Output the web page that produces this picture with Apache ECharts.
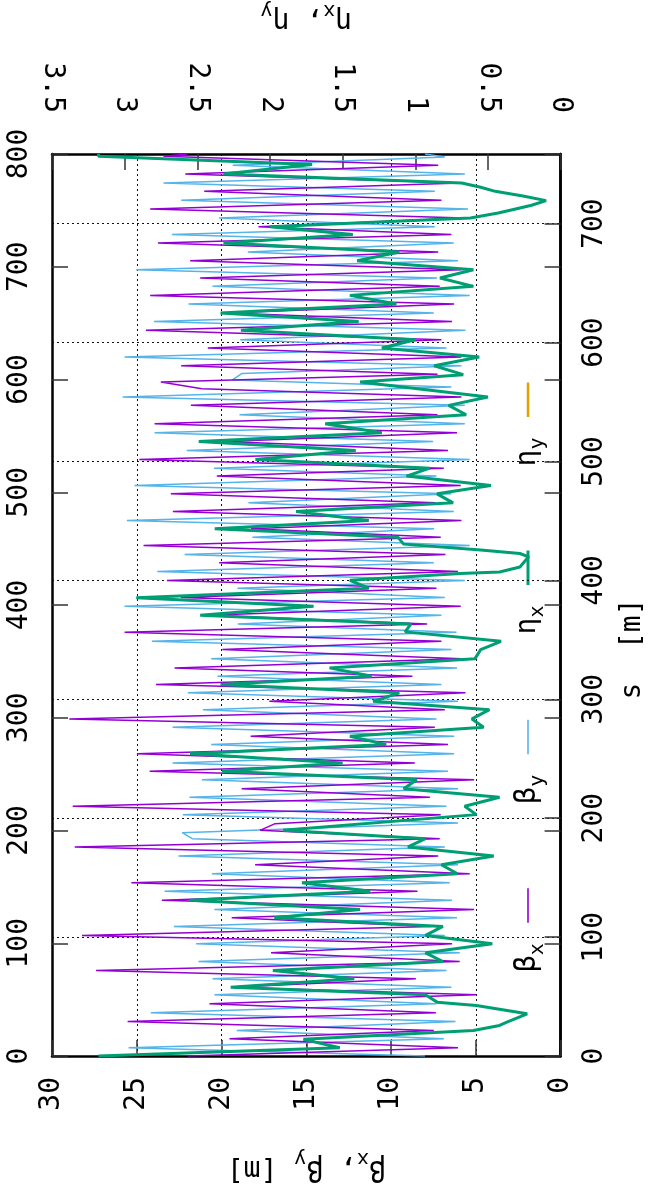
<!DOCTYPE html>
<html><head><meta charset="utf-8">
<script src="https://cdn.jsdelivr.net/npm/echarts@6/dist/echarts.min.js"></script>
<style>html,body{margin:0;padding:0;background:#fff}#c{width:660px;height:1198px}</style>
</head><body><div id="c"></div>
<script>
// ---- data (s in m, beta in m, eta in m) ----
const sBetaX = [0, 6.9, 14.5, 21.5, 29.1, 36.3, 43.9, 51.5, 57.9, 65.0,
  72.0, 79.5, 86.8, 94.4, 101.4, 109.0, 116.3, 123.3, 130.9, 138.5,
  145.7, 153.3, 160.9, 168.2, 175.8, 182.8, 189.8, 195.4, 203.0, 210.0,
  217.6, 224.8, 232.4, 239.4, 246.5, 254.3, 261.9, 268.9, 276.5, 283.5,
  291.3, 298.3, 305.4, 312.4, 319.4, 326.4, 334.0, 341.8, 348.8, 356.4,
  363.4, 370.7, 378.3, 385.6, 393.4, 399.9, 407.5, 414.8, 421.8, 429.3,
  436.3, 443.4, 450.4, 457.9, 465.2, 472.8, 479.8, 487.7, 494.4, 501.7,
  509.3, 516.9, 524.1, 531.7, 539.3, 547.2, 554.2, 561.2, 566.8, 573.3,
  580.5, 587.8, 595.4, 602.4, 610.3, 617.8, 624.9, 632.4, 639.7, 647.3,
  654.3, 661.3, 668.9, 676.2, 683.8, 690.8, 697.5, 704.8, 712.4, 719.7,
  727.2, 734.2, 741.8, 749.1, 756.7, 758.6];
const betaX = [22.0, 6.05, 19.53, 7.48, 25.54, 7.36, 20.71, 4.97, 19.43, 8.54,
  27.40, 5.95, 17.08, 6.40, 28.23, 7.62, 19.40, 5.10, 23.52, 8.44,
  25.32, 5.36, 18.02, 7.22, 28.66, 7.13, 17.73, 16.84, 7.07, 28.78,
  7.71, 18.81, 5.10, 24.24, 8.60, 24.99, 6.64, 18.28, 7.42, 28.98,
  6.83, 17.18, 5.61, 23.87, 8.74, 22.77, 5.85, 19.95, 7.03, 25.72,
  7.87, 20.8, 5.89, 22.40, 7.32, 23.22, 6.05, 20.14, 6.79, 24.60,
  7.07, 18.26, 5.85, 22.87, 7.36, 22.99, 5.89, 20.28, 6.89, 24.85,
  6.64, 19.8, 6.11, 23.95, 7.26, 21.81, 5.85, 21.16, 23.58, 7.26,
  22.38, 5.85, 20.81, 7.03, 24.46, 6.40, 19.6, 6.28, 24.21, 7.13,
  21.26, 5.85, 21.85, 7.22, 23.75, 6.44, 17.82, 5.65, 24.21, 7.03,
  21.02, 5.89, 22.14, 7.22, 23.42, 22.0];

const sBetaY = [0, 6.9, 14.5, 21.5, 29.1, 36.3, 43.9, 51.5, 57.9, 65.0,
  72.0, 79.5, 86.8, 94.4, 101.4, 109.0, 116.3, 123.3, 130.9, 138.5,
  145.7, 153.3, 160.9, 168.2, 175.8, 182.8, 187.8, 195.9, 203.0, 210.0,
  217.6, 224.8, 232.4, 239.4, 246.5, 254.3, 261.9, 268.9, 276.5, 283.5,
  291.3, 298.3, 305.4, 312.4, 319.4, 326.4, 334.0, 341.8, 348.8, 356.4,
  363.4, 370.7, 378.3, 385.6, 393.4, 399.9, 407.5, 414.8, 421.8, 429.3,
  436.3, 443.4, 450.4, 457.9, 465.2, 472.8, 479.8, 487.7, 494.4, 501.7,
  509.3, 516.9, 524.1, 531.7, 539.3, 547.2, 554.2, 562.6, 568.5, 574.1,
  580.5, 587.8, 595.4, 602.4, 610.3, 617.8, 624.9, 632.4, 639.7, 647.3,
  654.3, 661.3, 668.9, 676.2, 683.8, 690.8, 697.5, 704.8, 712.4, 719.7,
  727.2, 734.2, 741.8, 749.1, 756.1, 758.6];
const betaY = [8.0, 25.48, 6.89, 19.10, 6.20, 24.17, 7.32, 20.42, 6.44, 20.53,
  6.73, 21.36, 5.95, 21.50, 6.83, 22.81, 6.11, 20.42, 6.40, 23.36,
  6.54, 20.57, 6.05, 22.54, 6.83, 21.73, 22.32, 6.05, 22.28, 6.73,
  21.89, 6.05, 21.16, 6.64, 22.89, 6.28, 20.61, 6.28, 22.89, 7.32,
  21.10, 6.05, 21.99, 7.03, 20.24, 6.11, 20.61, 6.44, 24.11, 6.14,
  19.04, 7.03, 25.72, 6.83, 19.06, 5.65, 23.79, 7.48, 22.18, 5.36,
  18.18, 7.46, 25.58, 6.30, 18.41, 6.44, 25.13, 7.32, 20.44, 5.36,
  22.05, 7.52, 23.95, 5.65, 18.94, 5.65, 25.83, 6.44, 19.38, 18.79,
  5.85, 25.72, 6.73, 18.90, 5.61, 23.99, 7.48, 21.95, 5.36, 20.53,
  7.28, 25.03, 6.05, 18.45, 6.30, 22.93, 7.42, 20.14, 5.46, 22.38,
  7.42, 23.42, 5.65, 19.34, 6.83, 8.0];

const sEtaX = [0, 6.9, 14.0, 21.5, 25.7, 28.4, 35.5, 42.5, 45.3, 51.5,
  57.9, 65.0, 72.0, 79.5, 86.8, 94.4, 101.4, 109.0, 116.3, 123.3,
  130.9, 138.5, 145.7, 153.3, 160.9, 168.2, 175.8, 182.8, 189.8, 203.0,
  210.0, 217.6, 224.8, 232.4, 239.4, 246.5, 254.3, 261.9, 268.9, 276.5,
  283.5, 291.3, 298.3, 305.4, 312.4, 319.4, 326.4, 334.0, 341.8, 348.8,
  356.7, 363.4, 370.7, 378.3, 385.3, 393.4, 400.1, 405.8, 407.1, 411.3,
  419.8, 422.6, 425.6, 430.5, 436.3, 443.4, 450.4, 457.9, 465.2, 472.8,
  479.8, 487.7, 494.4, 501.7, 509.3, 516.9, 524.1, 531.7, 539.3, 547.2,
  554.2, 566.8, 573.0, 580.5, 587.8, 595.4, 602.4, 610.3, 617.8, 624.9,
  632.4, 639.7, 647.3, 654.3, 661.3, 668.9, 676.2, 683.8, 690.8, 697.5,
  704.8, 709.0, 712.4, 715.5, 719.4, 723.0, 727.2, 730.6, 734.2, 741.8,
  749.7, 756.7, 758.6];
const etaX = [3.18, 1.52, 1.77, 0.60, 0.42, 0.37, 0.23, 0.58, 0.85, 0.93,
  2.27, 1.42, 1.98, 0.81, 0.93, 0.47, 0.93, 0.81, 1.97, 1.38,
  2.55, 1.31, 1.78, 0.71, 0.82, 0.46, 1.05, 0.93, 1.91, 0.58,
  0.66, 0.42, 1.08, 0.99, 2.33, 1.50, 2.55, 1.20, 1.45, 0.53,
  0.61, 0.49, 1.29, 1.11, 2.34, 1.30, 1.59, 0.59, 0.55, 0.41,
  1.07, 1.03, 2.48, 1.70, 2.92, 1.32, 1.45, 0.69, 0.42, 0.28,
  0.22, 0.28, 0.55, 1.08, 1.12, 2.38, 1.32, 1.82, 0.74, 0.85,
  0.48, 1.06, 0.90, 2.10, 1.41, 2.49, 1.23, 1.62, 0.65, 0.77,
  0.50, 1.38, 0.67, 0.87, 0.56, 1.23, 1.00, 2.20, 1.39, 2.34,
  1.13, 1.45, 0.60, 0.83, 0.60, 1.40, 1.11, 2.32, 1.43, 2.00,
  0.62, 0.43, 0.31, 0.20, 0.10, 0.25, 0.45, 0.55, 0.68, 2.32,
  1.71, 3.18, 3.18];

const sEtaY = [0, 758.6];
const etaY = [0, 0];

const seriesNames = ['βx', 'βy', 'ηx', 'ηy'];
const seriesColors = ['#9400d3', '#56b4e9', '#009e73', '#e69f00'];

// ---- chart ----
const FONT = 'DejaVu Sans Mono';
const FS = 28;
const chart = echarts.init(document.getElementById('c'), null, {renderer: 'canvas'});
const pairs = (s, v) => s.map((x, i) => [v[i], x]);

const tickStyle = {inside: true, length: 16, lineStyle: {color: '#333', width: 1.5}};
const frameLine = {show: true, onZero: false, lineStyle: {color: '#000', width: 2.5}};
const lbl = (margin, extra) => Object.assign({rotate: 90, margin: margin, fontFamily: FONT, fontSize: FS, color: '#000'}, extra || {});
const dotted = {show: true, lineStyle: {type: [2, 3], color: '#111', width: 1}};
const richName = {
  b: {fontFamily: FONT, fontSize: FS, color: '#000', lineHeight: 40, verticalAlign: 'middle'},
  s: {fontFamily: FONT, fontSize: 20, color: '#000', lineHeight: 18, verticalAlign: 'bottom'}
};

const legendItems = seriesNames.map((n, i) => {
  const yEnd = [922.7, 754.3, 585.0, 417.0][i];
  const parts = n.split('');
  return [
    {type: 'line', silent: true, shape: {x1: 528, y1: yEnd - 34.5, x2: 528, y2: yEnd},
     style: {stroke: seriesColors[i], lineWidth: i === 2 ? 3 : (i === 3 ? 2.5 : 1.6)}},
    {type: 'text', silent: true, x: 528, y: yEnd + 20.5, rotation: Math.PI / 2,
     style: {text: '{b|' + parts[0] + '}{s|' + parts[1] + '}', align: 'right', verticalAlign: 'middle', rich: richName}}
  ];
}).flat();

const option = {
  animation: false,
  backgroundColor: '#fff',
  grid: {left: 52, right: 99.4, top: 154, bottom: 142, outerBoundsMode: 'none'},
  xAxis: [
    {type: 'value', position: 'bottom', inverse: true, min: 0, max: 30, interval: 5,
     axisLine: frameLine, axisTick: tickStyle, axisLabel: lbl(21),
     splitLine: dotted,
     name: '{b|β}{s|x}{b|, β}{s|y}{b| [m]}', nameLocation: 'middle', nameGap: 92, nameRotate: 180,
     nameTextStyle: {rich: richName}},
    {type: 'value', position: 'top', inverse: true, min: 0, max: 3.5, interval: 0.5,
     axisLine: frameLine, axisTick: tickStyle, axisLabel: lbl(41), splitLine: {show: false},
     name: '{b|η}{s|x}{b|, η}{s|y}', nameLocation: 'middle', nameGap: 114, nameRotate: 180,
     nameTextStyle: {rich: richName}}
  ],
  yAxis: [
    {type: 'value', position: 'right', min: 0, max: 758.6, interval: 100,
     axisLine: frameLine, axisTick: tickStyle,
     axisLabel: lbl(20, {showMaxLabel: false, formatter: v => (v % 100 === 0 ? String(v) : '')}),
     splitLine: dotted,
     name: '{b|s  [m]}', nameLocation: 'middle', nameGap: 52, nameRotate: 90,
     nameTextStyle: {rich: richName, padding: [0, 88, 0, 0]}},
    {type: 'value', position: 'left', min: 0, max: 800, interval: 100,
     axisLine: frameLine, axisTick: tickStyle, axisLabel: lbl(18), splitLine: {show: false}},
    {type: 'value', position: 'right', min: 0, max: 800, interval: 100,
     axisLine: frameLine, axisTick: tickStyle, axisLabel: {show: false}, splitLine: {show: false}}
  ],
  series: [
    {name: seriesNames[0], type: 'line', xAxisIndex: 0, yAxisIndex: 0, data: pairs(sBetaX, betaX),
     symbol: 'none', lineStyle: {color: seriesColors[0], width: 1.5}, z: 3},
    {name: seriesNames[1], type: 'line', xAxisIndex: 0, yAxisIndex: 0, data: pairs(sBetaY, betaY),
     symbol: 'none', lineStyle: {color: seriesColors[1], width: 1.5}, z: 2},
    {name: seriesNames[2], type: 'line', xAxisIndex: 1, yAxisIndex: 0, data: pairs(sEtaX, etaX),
     symbol: 'none', lineStyle: {color: seriesColors[2], width: 3}, z: 4},
    {name: seriesNames[3], type: 'line', xAxisIndex: 1, yAxisIndex: 0, data: pairs(sEtaY, etaY),
     symbol: 'none', lineStyle: {color: seriesColors[3], width: 2}, z: -1}
  ],
  graphic: legendItems
};
chart.setOption(option);
</script></body></html>
